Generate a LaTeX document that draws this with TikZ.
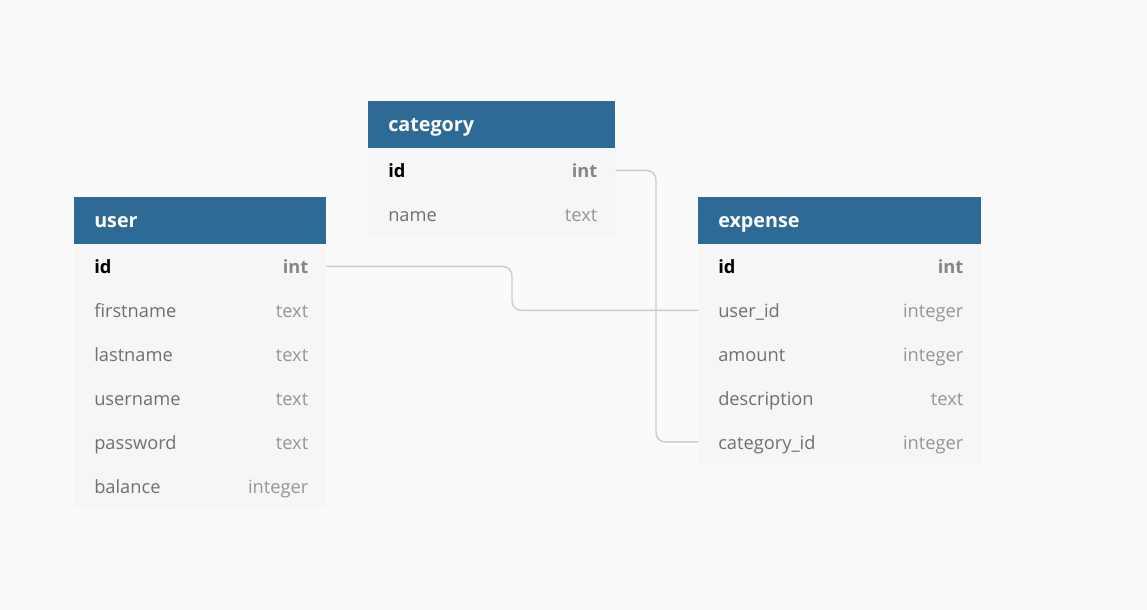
\documentclass[tikz,border=0pt]{standalone}
\usepackage{fontspec}
\setmainfont{Open Sans}
\definecolor{bg}{HTML}{FAFAFA}
\definecolor{hdr}{HTML}{2D6A96}
\definecolor{rowc}{HTML}{F6F6F6}
\definecolor{fcol}{HTML}{707070}
\definecolor{tcol}{HTML}{9A9490}
\definecolor{lcol}{HTML}{CCCCCC}
\tikzset{
  hdrbox/.style={rectangle, fill=hdr, draw=none, minimum height=35.25pt, inner sep=0pt, anchor=north west},
  rowbox/.style={rectangle, draw=none, minimum height=32.5pt, inner sep=0pt, anchor=north west},
  bodybox/.style={fill=rowc, draw=none},
  htext/.style={text=white, font=\fontsize{14.8}{16}\selectfont\bfseries, inner sep=0pt, anchor=west, text height=13.5pt, text depth=3pt},
  fname/.style={text=fcol, font=\fontsize{13.7}{16}\selectfont, inner sep=0pt, anchor=west, text height=14pt, text depth=3pt},
  ftype/.style={text=tcol, font=\fontsize{13.7}{16}\selectfont, inner sep=0pt, anchor=east, text height=14pt, text depth=3pt},
  pkname/.style={fname, text=black, font=\fontsize{13.7}{16}\selectfont\bfseries},
  pktype/.style={ftype, text=tcol!90!black, font=\fontsize{13.7}{16}\selectfont\bfseries},
  conn/.style={draw=lcol, line width=1.1pt, rounded corners=7pt}
}
\begin{document}
\begin{tikzpicture}[x=0.75pt,y=-0.75pt]
\fill[bg] (0,0) rectangle (1147,610);
\useasboundingbox (0,0) rectangle (1147,610);
% user table
\node[hdrbox, minimum width=189pt] (user) at (74,197) {};
\node[htext] (userT) at ([xshift=15pt]user.west) {user};
\node[rowbox, minimum width=189pt] (u1) at (user.south west) {};
\node[rowbox, minimum width=189pt] (u2) at (u1.south west) {};
\node[rowbox, minimum width=189pt] (u3) at (u2.south west) {};
\node[rowbox, minimum width=189pt] (u4) at (u3.south west) {};
\node[rowbox, minimum width=189pt] (u5) at (u4.south west) {};
\node[rowbox, minimum width=189pt] (u6) at (u5.south west) {};
\fill[bodybox] (u1.north west) rectangle (u6.south east);
\node[pkname] (u1n) at ([xshift=15pt]u1.west) {id};
\node[pktype] (u1t) at ([xshift=-13.5pt]u1.east) {int};
\node[fname] (u2n) at ([xshift=15pt]u2.west) {firstname};
\node[ftype] (u2t) at ([xshift=-13.5pt]u2.east) {text};
\node[fname] (u3n) at ([xshift=15pt]u3.west) {lastname};
\node[ftype] (u3t) at ([xshift=-13.5pt]u3.east) {text};
\node[fname] (u4n) at ([xshift=15pt]u4.west) {username};
\node[ftype] (u4t) at ([xshift=-13.5pt]u4.east) {text};
\node[fname] (u5n) at ([xshift=15pt]u5.west) {password};
\node[ftype] (u5t) at ([xshift=-13.5pt]u5.east) {text};
\node[fname] (u6n) at ([xshift=15pt]u6.west) {balance};
\node[ftype] (u6t) at ([xshift=-13.5pt]u6.east) {integer};
% category table
\node[hdrbox, minimum width=185.25pt] (cat) at (368,101) {};
\node[htext] (catT) at ([xshift=15pt]cat.west) {category};
\node[rowbox, minimum width=185.25pt] (c1) at (cat.south west) {};
\node[rowbox, minimum width=185.25pt] (c2) at (c1.south west) {};
\fill[bodybox] (c1.north west) rectangle (c2.south east);
\node[pkname] (c1n) at ([xshift=15pt]c1.west) {id};
\node[pktype] (c1t) at ([xshift=-13.5pt]c1.east) {int};
\node[fname] (c2n) at ([xshift=15pt]c2.west) {name};
\node[ftype] (c2t) at ([xshift=-13.5pt]c2.east) {text};
% expense table
\node[hdrbox, minimum width=212.25pt] (exp) at (698,197) {};
\node[htext] (expT) at ([xshift=15pt]exp.west) {expense};
\node[rowbox, minimum width=212.25pt] (e1) at (exp.south west) {};
\node[rowbox, minimum width=212.25pt] (e2) at (e1.south west) {};
\node[rowbox, minimum width=212.25pt] (e3) at (e2.south west) {};
\node[rowbox, minimum width=212.25pt] (e4) at (e3.south west) {};
\node[rowbox, minimum width=212.25pt] (e5) at (e4.south west) {};
\fill[bodybox] (e1.north west) rectangle (e5.south east);
\node[pkname] (e1n) at ([xshift=15pt]e1.west) {id};
\node[pktype] (e1t) at ([xshift=-13.5pt]e1.east) {int};
\node[fname] (e2n) at ([xshift=15pt]e2.west) {user\_id};
\node[ftype] (e2t) at ([xshift=-13.5pt]e2.east) {integer};
\node[fname] (e3n) at ([xshift=15pt]e3.west) {amount};
\node[ftype] (e3t) at ([xshift=-13.5pt]e3.east) {integer};
\node[fname] (e4n) at ([xshift=15pt]e4.west) {description};
\node[ftype] (e4t) at ([xshift=-13.5pt]e4.east) {text};
\node[fname] (e5n) at ([xshift=15pt]e5.west) {category\_id};
\node[ftype] (e5t) at ([xshift=-13.5pt]e5.east) {integer};
% connectors
\coordinate (j1) at (512,0);
\coordinate (j2) at (656,0);
\draw[conn] (u1.east) -| (j1 |- e2.west) -- (e2.west);
\draw[conn] (c1.east) -| (j2 |- e5.west) -- (e5.west);
\end{tikzpicture}
\end{document}
